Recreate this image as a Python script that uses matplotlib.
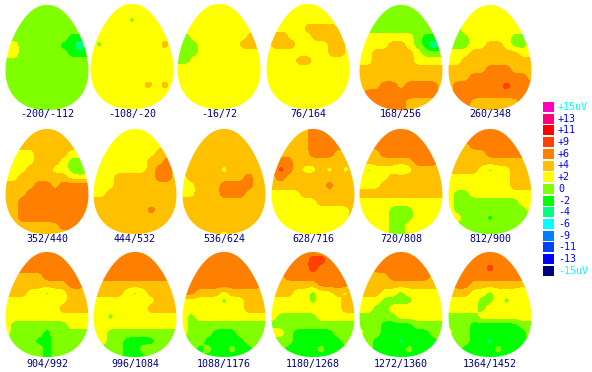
#!/usr/bin/env python3
import numpy as np
import matplotlib
matplotlib.use('Agg')
import matplotlib.pyplot as plt
from matplotlib.patches import Polygon, Rectangle

# letters stand for the legend value at each grid point of a head
values = {'C': -6, 'c': -4, 'G': -2, 'g': 0, 'y': 2, 'a': 4, 'o': 6, 'r': 9}

labels = ['-200/-112', '-108/-20', '-16/72', '76/164', '168/256', '260/348',
          '352/440', '444/532', '536/624', '628/716', '720/808', '812/900',
          '904/992', '996/1084', '1088/1176', '1180/1268', '1272/1360', '1364/1452']

map_01 = ['ggggggggggg', 'ggggggggggg', 'ggggggggggg', 'ggggggggggg', 'ggggggggGGg',
          'yygggggGGCG', 'yyggggggGGG', 'ggggggggggg', 'ggggggggggg', 'ggggggggggg',
          'ggggggggggg', 'ggggggggggg', 'ggggggggggg', 'ggggggggggg']
map_02 = ['yyyyyyyyyyy', 'yyyyyyyyyyy', 'yyyyygyyyyy', 'yyyyyyyyyyy', 'yyyyyyyyyyy',
          'ygyyyyyyyay', 'yyyyyyyyyyy', 'yyyyyyyyyyy', 'yyyyyyyyyyy', 'yyyyyyyyyyy',
          'yyyyyyyayay', 'yyyyyyyyyyy', 'yyyyyyyyyyy', 'yyyyyyyyyyy']
map_03 = ['yyyyyyyyyyy', 'yyyyyyyyyyy', 'yyyyyyyyyyy', 'yyyyyyyyyyy', 'ygyyyyyyyay',
          'gggyyyyyaaa', 'gggyyyyyyyy', 'ggyyyyyyyyy', 'yyyyyyyyyyy', 'yyyyyyyyyyy',
          'yyyyyyyyyyy', 'yyyyyyyyyyy', 'yyyyyyyyyyy', 'yyyyyyyyyyy']
map_04 = ['yyyyyyyyyyy', 'yyyyyyyyyyy', 'yyyyyyyyyyy', 'yyyyyaaaayy', 'yaayyyaaaay',
          'yaaayyyyaay', 'yyyyyyyyaay', 'yyyyaayyyyy', 'yyyyyyyyyyy', 'yyyyyyyyyyy',
          'yyyyyyyyyyy', 'yyyyyyyyyyy', 'yyyyyyyyyyy', 'yyyyyyyyyyy']
map_05 = ['ggggggggggg', 'ggggggggggg', 'ggggggggggg', 'ygggggggggy', 'yyyyyyygGGg',
          'yyyyaaygGCG', 'yyaaaaayggg', 'yyaaaaayyyy', 'aaaaaaaaaaa', 'aaaaaaaaaaa',
          'aaaooaooooa', 'aoooooooooa', 'ooooooaaaaa', 'ooooooaaaaa']
map_06 = ['yyyyyyyyyyy', 'yyyyyyyyyyy', 'yyyyyyyyyyy', 'ygyyyyyyyyy', 'gggyyyyyggy',
          'gggyyaayggy', 'yyyaaaaaayy', 'yyaaaaaaaaa', 'aaaaaoooaaa', 'aaaoooooooa',
          'aoooooorooo', 'aoooooooooo', 'oooaaaaaaoo', 'oooaaaaaaoo']
map_07 = ['aaaaaaaaaaa', 'aaaaaaaaaaa', 'aaaaaaaaaaa', 'ayyyaaaayyy', 'yyyyaaayggy',
          'yyyaaayygGg', 'yyaaaaaayyy', 'aaaaooaoooo', 'aaaoooooooo', 'aaooooooooo',
          'aaooooooooo', 'aaooooooooo', 'aaaaaaaooaa', 'aaaaaaaaaaa']
map_08 = ['yyyyyyyyyyy', 'yyyyyyyyyyy', 'yyyyyyyyyaa', 'yyyyyyyyaaa', 'yyyyyyyaaoa',
          'yyyyyyyaooa', 'yyyaaaaaooa', 'yyyaaaaaaaa', 'yyaaaaaaaaa', 'aaaaaaaaaaa',
          'aaaaaaaoaaa', 'aaaaaaaaaaa', 'aaaaaaaaaaa', 'aaaaaaaaaaa']
map_09 = ['aaaaaaaaaaa', 'aaaaaaaaaaa', 'aaaaaaaaaaa', 'ayaaaaaaaaa', 'aaaaaaaaaaa',
          'aaaaayaaaaa', 'yaaaaaaaoaa', 'yyaaaooooaa', 'yyaaaoooaaa', 'aaaaaaaaaaa',
          'aaaaaaaaaaa', 'aaaaaaaaaaa', 'aaaaaaaaaaa', 'aaaaayaaaaa']
map_10 = ['aaaaaoooooo', 'aaaaaoooooa', 'aaaaaoooooa', 'aaaaaoooaaa', 'aooaaaaaaaa',
          'aroayyayaya', 'aoaaaaaaaaa', 'aaaaaaaoaaa', 'yyyyaaaaaaa', 'yyyyyyaaaaa',
          'yyyyyyyyyya', 'yyyyyyyyyya', 'yyyyyyyyyyy', 'yyyyyyyyyyy']
map_11 = ['ooooooooooo', 'ooooooooooo', 'aaooooooooo', 'aaaoooooooa', 'aaaaaaaoooa',
          'ygyyygyaaaa', 'yyyyaaaaaaa', 'yyyaaaaaaaa', 'aaaaaaaaaaa', 'yyyyyyyyyyy',
          'yyyygggyyyy', 'yyyygggyyyy', 'yyyyggyyyyy', 'yyyyggyyyyy']
map_12 = ['ooooooooooo', 'ooooooooooo', 'aaaoooooooo', 'aaaaaoooooa', 'aaaaaaaaaaa',
          'aaaaygyyaaa', 'yyyyyyyyaaa', 'yyyyyyyyaaa', 'yggyyyyyyyy', 'yggggggggyy',
          'ygggggggggy', 'yygggGggggg', 'ygggggggggg', 'ygggggggggg']
map_13 = ['ooooooooooo', 'ooooooooooo', 'ooooooooooo', 'aaaaaoooooo', 'aaaaaaaaooa',
          'aaayygyyaaa', 'yyyyyyyyaaa', 'yyyyyyyaaaa', 'yyyyyyyyyyy', 'ygggggggyyy',
          'yggggGggggg', 'ggggGGggggg', 'gggggGggggg', 'gggggGggggg']
map_14 = ['ooooooooooo', 'ooooooooooo', 'ooooooooooo', 'aoooooooooo', 'aaaaaaaaaaa',
          'aaaaygyaaaa', 'yyyyyyyyaaa', 'yyyyyyyaaaa', 'yygyyyyyyyy', 'yyyyyyyyyyy',
          'yyggggggggg', 'yyggGGGGggg', 'ggggGGggggg', 'ggggGGGgggg']
map_15 = ['ooooooooooo', 'ooooooooooo', 'ooooooooooo', 'ooooooooooo', 'aoooooooooa',
          'ooaaayaaaaa', 'yyyyygyyaaa', 'yyyyyyyyaaa', 'ygyyyyyyyyy', 'ygggggggggg',
          'ygggGGGgggg', 'gggGGGGGggg', 'ggGgGGgGGgg', 'gggGGGGGGgg']
map_16 = ['ooooooooooo', 'ooooorroooo', 'ooooorooooo', 'aaooooooooo', 'aaaaaaooooa',
          'aaayygyyaya', 'yyyyygyyyaa', 'yyyyyyyyyaa', 'ygggggyyyyy', 'ggggggggggg',
          'yygGGGGGggg', 'gggGGGGGGgg', 'ggGGGGgGGGg', 'gGGGGGGGGGg']
map_17 = ['ooooooooooo', 'ooooooooooo', 'aaooooooooo', 'aaaaoooooaa', 'aaaaaaaaaaa',
          'aaayygyyyyy', 'yyyggggyyyy', 'yyggyyyyyyy', 'gggggyyyyyy', 'gggGGGGgggg',
          'yggGGGGGGgg', 'ggGGGcGGGGg', 'ggGGGGgGGGg', 'GGGGGGGGGGG']
map_18 = ['ooooooooooo', 'ooooooooooo', 'ooooorooooo', 'aoooooooooa', 'aooaaaaaaaa',
          'aaayygyyyga', 'yyyyggygyyy', 'yyyygyyyyyy', 'ggggyyyyyyy', 'gggGGGGGGgg',
          'yggGGGGGGGg', 'gggGGcGGGGg', 'ggGGGGgGGGg', 'GGGGGGGGGGG']
maps = [map_01, map_02, map_03, map_04, map_05, map_06, map_07, map_08, map_09,
        map_10, map_11, map_12, map_13, map_14, map_15, map_16, map_17, map_18]

legend_labels = ['+15uV', '+13', '+11', '+9', '+6', '+4', '+2', '0',
                 '-2', '-4', '-6', '-9', '-11', '-13', '-15uV']
legend_colors = ['#ff00c0', '#ff0080', '#ff0000', '#ff4000', '#ff8000', '#ffc000', '#ffff00', '#80ff00',
                 '#00ff00', '#00ff80', '#00ffff', '#0080ff', '#0040ff', '#0000ff', '#000080']
bounds = [-20, -14, -12, -10, -7.5, -5, -3, -1, 1, 3, 5, 7.5, 10, 12, 14, 20]

# head placement in pixels
lefts = [6, 91, 178, 267, 360, 449,
         6, 94, 183, 272, 360, 449,
         6, 94, 183, 272, 360, 449]
tops = [5, 4, 4, 4, 5, 5,
        129, 129, 129, 129, 129, 129,
        252, 252, 252, 252, 252, 252]
label_rows = [114, 239, 364]
WIDTH = 82
HEIGHT = 105
UP = 4


def egg(left, top):
    t = np.linspace(0, 2 * np.pi, 300)
    s = np.sign(np.sin(t)) * np.abs(np.sin(t)) ** 0.9
    x = s * (1 - 0.25 * np.cos(t)) / 1.021
    y = -np.cos(t)
    return np.column_stack([left + WIDTH / 2 * (1 + x), top + HEIGHT / 2 * (1 + y)])


def soften(z):
    # round off the grid cells before contouring
    k = np.exp(-0.5 * (np.arange(-4, 5) / (0.4 * UP)) ** 2)
    k /= k.sum()
    big = np.kron(z, np.ones((UP, UP)))
    big = np.pad(big, 4, mode='edge')
    big = np.apply_along_axis(np.convolve, 0, big, k, mode='same')
    big = np.apply_along_axis(np.convolve, 1, big, k, mode='same')
    return big[4:-4, 4:-4]


fig = plt.figure(figsize=(5.92, 3.72), dpi=100)
ax = fig.add_axes([0, 0, 1, 1])
ax.set_xlim(0, 592)
ax.set_ylim(372, 0)
ax.axis('off')

for n, (rows, label, left, top) in enumerate(zip(maps, labels, lefts, tops)):
    z = np.array([[values[c] for c in r] for r in rows], dtype=float)
    sx = WIDTH / (z.shape[1] - 1)
    sy = HEIGHT / (z.shape[0] - 1)
    z = soften(z)
    gx = left + ((np.arange(z.shape[1]) + 0.5) / UP - 0.5) * sx
    gy = top + ((np.arange(z.shape[0]) + 0.5) / UP - 0.5) * sy
    cs = ax.contourf(gx, gy, z, levels=bounds, colors=legend_colors[::-1], antialiased=False)
    outline = Polygon(egg(left, top), closed=True, fc='none', ec='none', transform=ax.transData)
    ax.add_patch(outline)
    cs.set_clip_path(outline)
    ax.text(left + WIDTH / 2, label_rows[n // 6], label, ha='center', va='center',
            family='DejaVu Sans Mono', fontsize=7.2, color='#000080')

for i, (lab, col) in enumerate(zip(legend_labels, legend_colors)):
    y = 102 + i * 11.7
    ax.add_patch(Rectangle((543, y), 11, 10, fc=col, ec='none'))
    txt_col = '#00ffff' if 'uV' in lab else '#0000ff'
    ax.text(558, y + 5, lab, ha='left', va='center', family='DejaVu Sans Mono',
            fontsize=7.2, color=txt_col)

fig.savefig('out.png', dpi=100, facecolor='white')
